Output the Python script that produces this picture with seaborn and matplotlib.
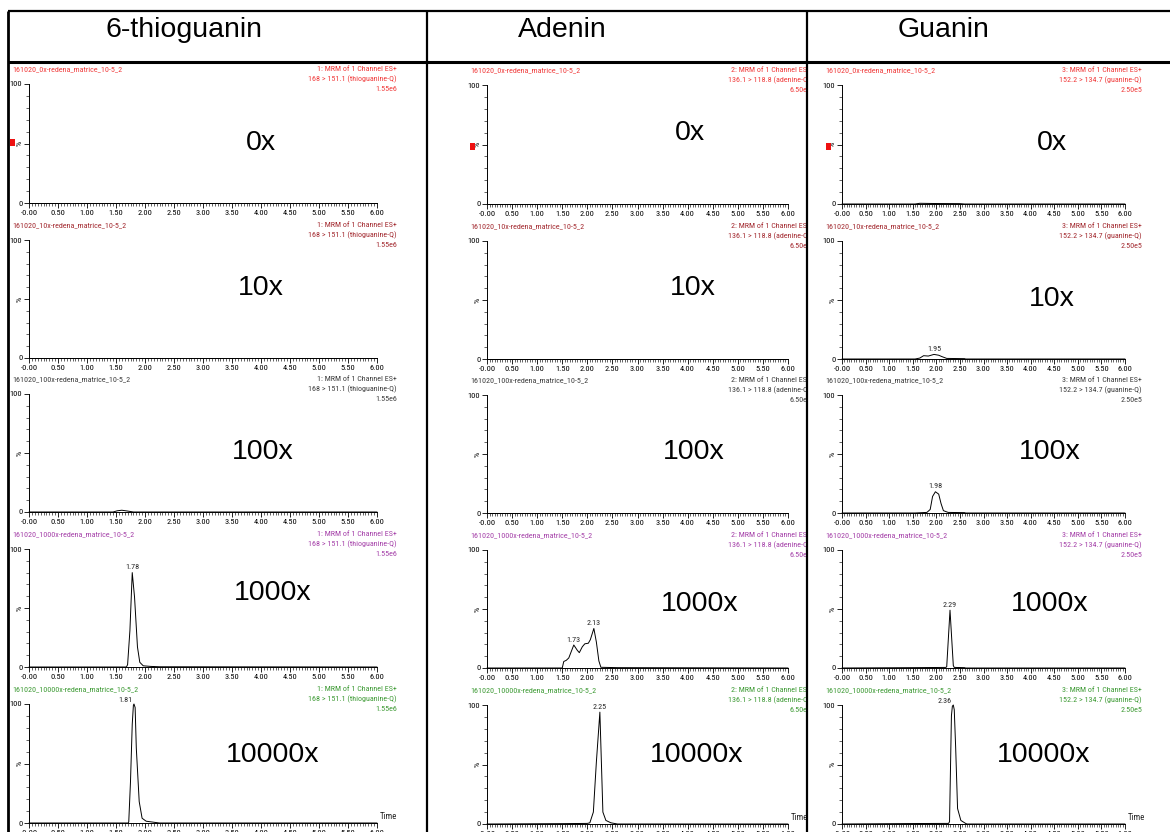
import matplotlib
matplotlib.use("Agg")
import numpy as np
import pandas as pd
import seaborn as sns
import matplotlib.pyplot as plt
from matplotlib import font_manager
from matplotlib.patches import Rectangle
from matplotlib.ticker import FixedLocator, FixedFormatter, MultipleLocator

# ---------------------------------------------------------------- data
compounds = ["6-thioguanin", "Adenin", "Guanin"]
dilutions = ["0x", "10x", "100x", "1000x", "10000x"]
channel_ids = ["1", "2", "3"]
transitions = ["168 > 151.1 (thioguanine-Q)",
               "136.1 > 118.8 (adenine-Q)",
               "152.2 > 134.7 (guanine-Q)"]
full_scale = ["1.55e6", "6.50e5", "2.50e5"]
time_ticks = [0.0, 0.5, 1.0, 1.5, 2.0, 2.5, 3.0, 3.5, 4.0, 4.5, 5.0, 5.5, 6.0]
time_tick_labels = ["-0.00", "0.50", "1.00", "1.50", "2.00", "2.50", "3.00",
                    "3.50", "4.00", "4.50", "5.00", "5.50", "6.00"]

# 6-thioguanine traces (retention time in min, relative intensity in %)
thio_0x_time = [0.00, 6.00]
thio_0x_pct = [0.0, 0.0]
thio_10x_time = [0.00, 6.00]
thio_10x_pct = [0.0, 0.0]
thio_100x_time = [0.00, 1.45, 1.52, 1.60, 1.70, 1.80, 6.00]
thio_100x_pct = [0.0, 0.0, 1.0, 1.5, 0.8, 0.0, 0.0]
thio_1000x_time = [0.00, 1.68, 1.70, 1.74, 1.78, 1.82, 1.87, 1.91, 1.97, 2.10, 2.25, 6.00]
thio_1000x_pct = [0.0, 0.0, 2.0, 31.0, 80.0, 59.0, 17.0, 4.0, 1.0, 0.5, 0.2, 0.0]
thio_10000x_time = [0.00, 1.71, 1.72, 1.75, 1.78, 1.80, 1.81, 1.83, 1.85, 1.90, 1.95, 2.02, 2.25, 6.00]
thio_10000x_pct = [0.0, 0.0, 1.0, 35.0, 83.0, 99.0, 100.0, 97.0, 63.0, 18.0, 4.0, 1.5, 0.0, 0.0]

# adenine traces
ade_0x_time = [0.00, 6.00]
ade_0x_pct = [0.0, 0.0]
ade_10x_time = [0.00, 6.00]
ade_10x_pct = [0.0, 0.0]
ade_100x_time = [0.00, 6.00]
ade_100x_pct = [0.0, 0.0]
ade_1000x_time = [0.00, 1.50, 1.53, 1.58, 1.63, 1.73, 1.80, 1.84, 1.90, 1.95, 2.02, 2.06,
                  2.13, 2.18, 2.23, 2.27, 2.60, 6.00]
ade_1000x_pct = [0.0, 0.0, 5.5, 6.5, 8.5, 19.5, 15.0, 13.0, 18.0, 20.5, 21.0, 24.0,
                 33.5, 22.0, 6.0, 0.6, 0.3, 0.0]
ade_10000x_time = [0.00, 1.50, 2.00, 2.05, 2.12, 2.18, 2.25, 2.28, 2.31, 2.37, 2.47, 2.60, 6.00]
ade_10000x_pct = [0.0, 0.3, 0.5, 1.0, 10.0, 52.0, 94.0, 52.0, 10.0, 3.0, 1.0, 0.0, 0.0]

# guanine traces
gua_0x_time = [0.00, 1.55, 1.65, 1.80, 2.00, 2.50, 2.60, 6.00]
gua_0x_pct = [0.0, 0.0, 0.6, 0.5, 0.4, 0.3, 0.0, 0.0]
gua_10x_time = [0.00, 1.55, 1.65, 1.73, 1.83, 1.95, 2.05, 2.12, 2.22, 2.60, 2.62, 6.00]
gua_10x_pct = [0.0, 0.0, 0.8, 2.8, 2.5, 3.9, 3.2, 2.0, 0.5, 0.3, 0.0, 0.0]
gua_100x_time = [0.00, 1.55, 1.80, 1.87, 1.92, 1.98, 2.05, 2.10, 2.15, 2.25, 2.60, 2.62, 6.00]
gua_100x_pct = [0.0, 0.0, 0.5, 3.0, 14.0, 18.0, 16.0, 8.0, 2.0, 0.5, 0.3, 0.0, 0.0]
gua_1000x_time = [0.00, 1.55, 2.20, 2.22, 2.29, 2.36, 2.38, 2.60, 2.62, 6.00]
gua_1000x_pct = [0.0, 0.3, 0.5, 1.0, 49.0, 2.0, 0.5, 0.3, 0.0, 0.0]
gua_10000x_time = [0.00, 1.55, 2.26, 2.28, 2.32, 2.34, 2.36, 2.38, 2.41, 2.45, 2.52, 2.62, 2.65, 6.00]
gua_10000x_pct = [0.0, 0.4, 0.5, 2.0, 91.0, 99.0, 100.0, 96.0, 64.0, 13.0, 3.0, 0.5, 0.0, 0.0]

# labelled peak apexes (min)
thio_peaks = [[], [], [], [1.78], [1.81]]
ade_peaks = [[], [], [], [1.73, 2.13], [2.25]]
gua_peaks = [[], [1.95], [1.98], [2.29], [2.36]]

traces = [
    [(thio_0x_time, thio_0x_pct), (thio_10x_time, thio_10x_pct), (thio_100x_time, thio_100x_pct),
     (thio_1000x_time, thio_1000x_pct), (thio_10000x_time, thio_10000x_pct)],
    [(ade_0x_time, ade_0x_pct), (ade_10x_time, ade_10x_pct), (ade_100x_time, ade_100x_pct),
     (ade_1000x_time, ade_1000x_pct), (ade_10000x_time, ade_10000x_pct)],
    [(gua_0x_time, gua_0x_pct), (gua_10x_time, gua_10x_pct), (gua_100x_time, gua_100x_pct),
     (gua_1000x_time, gua_1000x_pct), (gua_10000x_time, gua_10000x_pct)],
]
peaks = [thio_peaks, ade_peaks, gua_peaks]

rows = []
for c, comp in enumerate(compounds):
    for r, dil in enumerate(dilutions):
        t, p = traces[c][r]
        for ti, pi in zip(t, p):
            rows.append({"compound": comp, "dilution": dil, "time": ti, "pct": pi})
df = pd.DataFrame(rows)

# ---------------------------------------------------------------- style
sns.set_style("ticks")


def first_available(names):
    for n in names:
        try:
            font_manager.findfont(n, fallback_to_default=False)
            return n
        except Exception:
            continue
    return "DejaVu Sans"


SANS = first_available(["Liberation Sans", "Arial", "DejaVu Sans"])
NARROW = first_available(["Liberation Sans Narrow", "Arial Narrow", "Roboto Condensed", SANS])
plt.rcParams["font.family"] = [SANS, "DejaVu Sans"]

dil_colors = {"0x": "#f03a3a", "10x": "#a2282e", "100x": "#3c3c3c",
              "1000x": "#a43fa8", "10000x": "#3d9a34"}

W, H = 1170, 832
fig = plt.figure(figsize=(W / 100, H / 100), dpi=100)


def rect(x0, y_top, x1, y_bot):
    return [x0 / W, 1 - y_bot / H, (x1 - x0) / W, (y_bot - y_top) / H]


# panel geometry in pixels
col_left = [8, 427, 807]
col_right = [427, 807, 1170]
col_x0 = [29, 487, 842]
col_x6 = [377, 788, 1125]
col_dy = [0, 1, 1]
row_y100 = [84, 240, 394, 549, 704]
row_y0 = [203, 358, 512, 667, 823]
info_right = [397, 811, 1142]
big_label_pos = [
    [(261, 143), (261, 288), (263, 452), (273, 593), (273, 755)],
    [(690, 133), (693, 288), (694, 452), (700, 604), (697, 755)],
    [(1052, 143), (1052, 299), (1050, 452), (1050, 604), (1044, 755)],
]
marker_pos = [(12, 142), (472, 146), (828, 146)]

small_fs = 5.8
tick_fs = 6.0

for c, comp in enumerate(compounds):
    for r, dil in enumerate(dilutions):
        y100 = row_y100[r] + col_dy[c]
        y0 = row_y0[r] + col_dy[c]
        ax = fig.add_axes(rect(col_x0[c], y100, col_x6[c], y0))
        sub = df[(df.compound == comp) & (df.dilution == dil)]
        sns.lineplot(data=sub, x="time", y="pct", ax=ax, color="black", lw=0.7,
                     estimator=None, sort=False, legend=False)
        for ln in ax.lines:
            ln.set_clip_on(False)
        ax.set_xlim(0, 6)
        ax.set_ylim(0, 100)
        ax.set_xlabel("")
        ax.set_ylabel("")
        sns.despine(ax=ax)
        for s in ("left", "bottom"):
            ax.spines[s].set_linewidth(0.7)
            ax.spines[s].set_color("black")
        ax.xaxis.set_major_locator(FixedLocator(time_ticks))
        ax.xaxis.set_major_formatter(FixedFormatter(time_tick_labels))
        ax.xaxis.set_minor_locator(MultipleLocator(0.05))
        ax.yaxis.set_major_locator(FixedLocator([0, 50, 100]))
        ax.yaxis.set_major_formatter(FixedFormatter(["0", "%", "100"]))
        ax.yaxis.set_minor_locator(MultipleLocator(10))
        ax.tick_params(which="major", length=3.5, width=0.6, labelsize=tick_fs, pad=1.2,
                       direction="out", colors="black")
        ax.tick_params(which="minor", length=2.0, width=0.5, direction="out")
        for lab in ax.get_xticklabels() + ax.get_yticklabels():
            lab.set_fontfamily(NARROW)
        ax.get_yticklabels()[1].set_rotation(90)
        ax.get_yticklabels()[1].set_va("center")
        ax.patch.set_alpha(0)

        # retention-time labels at the apexes
        for pt in peaks[c][r]:
            val = float(np.interp(pt, traces[c][r][0], traces[c][r][1]))
            if val >= 98:
                ax.text(pt - 0.03, val + 0.5, f"{pt:.2f}", ha="right", va="bottom",
                        fontsize=small_fs, family=NARROW, clip_on=False)
            else:
                ax.text(pt, val + 2.0, f"{pt:.2f}", ha="center", va="bottom",
                        fontsize=small_fs, family=NARROW, clip_on=False)

        if r == len(dilutions) - 1:
            ax.text(6.05, 1.5, "Time", ha="left", va="bottom", fontsize=6.4,
                    family=NARROW, clip_on=False)

# text layer per table column (clipped at the cell borders)
for c in range(3):
    lay = fig.add_axes(rect(col_left[c], 62, col_right[c], H))
    lay.set_xlim(col_left[c], col_right[c])
    lay.set_ylim(H, 62)
    lay.axis("off")
    lay.patch.set_alpha(0)
    for r, dil in enumerate(dilutions):
        y100 = row_y100[r] + col_dy[c]
        col = dil_colors[dil]
        lay.text(col_x0[c] - 17, y100 - 15, f"161020_{dil}-redena_matrice_10-5_2",
                 ha="left", va="center", fontsize=small_fs, family=NARROW, color=col,
                 clip_on=True)
        info = [f"{channel_ids[c]}: MRM of 1 Channel ES+", transitions[c], full_scale[c]]
        for k, line in enumerate(info):
            lay.text(info_right[c], y100 - 15 + 10 * k, line, ha="right", va="center",
                     fontsize=small_fs, family=NARROW, color=col, clip_on=True)
        bx, by = big_label_pos[c][r]
        lay.text(bx, by, dil, ha="center", va="center", fontsize=20.5, color="black")
    mx, my = marker_pos[c]
    lay.add_patch(Rectangle((mx - 2.5, my - 3.5), 5, 7, color="#ee1111", lw=0))

# table frame and column headers
tab = fig.add_axes([0, 0, 1, 1])
tab.set_xlim(0, W)
tab.set_ylim(H, 0)
tab.axis("off")
tab.patch.set_alpha(0)
tab.plot([8, W], [11, 11], color="black", lw=1.6, solid_capstyle="butt")
tab.plot([8, W], [62, 62], color="black", lw=2.2, solid_capstyle="butt")
for x in (8, 427, 807):
    tab.plot([x, x], [11, H], color="black", lw=1.6 if x != 8 else 2.0, solid_capstyle="butt")
header_x = [184, 562, 944]
for c, comp in enumerate(compounds):
    tab.text(header_x[c], 30, comp, ha="center", va="center", fontsize=20.5, color="black")

fig.savefig("out.png", dpi=100)
